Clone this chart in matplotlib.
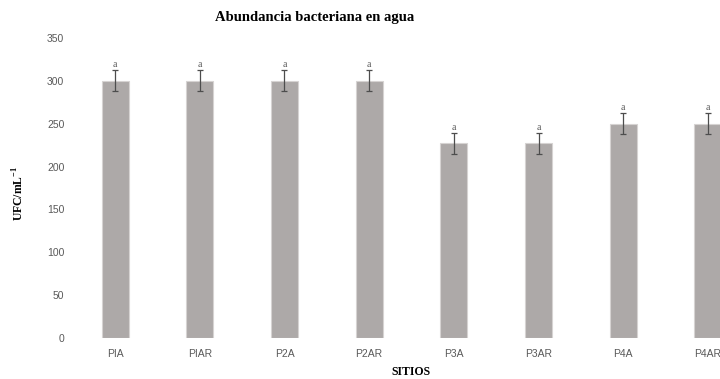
import matplotlib.pyplot as plt
import numpy as np

# Data
sitios = ['PIA', 'PIAR', 'P2A', 'P2AR', 'P3A', 'P3AR', 'P4A', 'P4AR']
ufc = [300, 300, 300, 300, 227, 227, 250, 250]
err = [12, 12, 12, 12, 12, 12, 12, 12]
letras = ['a', 'a', 'a', 'a', 'a', 'a', 'a', 'a']

fig = plt.figure(figsize=(7.2, 3.79), dpi=100)
# the original is cropped on the right, so the axes run past the figure edge
ax = fig.add_axes([0.101, 0.108, 0.941, 0.792])

x = np.arange(len(sitios))
ax.bar(x, ufc, width=0.32, color='#ada9a8', edgecolor='#d6d3d2', linewidth=0.8,
       yerr=err, capsize=2.2, error_kw=dict(ecolor='#4d4d4d', elinewidth=0.9, capthick=0.9))

for xi, v, e, t in zip(x, ufc, err, letras):
    ax.text(xi, v + e + 1.5, t, ha='center', va='bottom', fontsize=7,
            family='Liberation Serif', color='#595959')

ax.set_xlim(-0.5, len(sitios) - 0.5)
ax.set_ylim(0, 350)
ax.set_yticks(np.arange(0, 351, 50))
ax.set_xticks(x)
ax.set_xticklabels(sitios)
for lab in ax.get_xticklabels() + ax.get_yticklabels():
    lab.set_family('Liberation Sans')
    lab.set_fontsize(7.5)
    lab.set_color('#595959')
ax.tick_params(length=0)
ax.tick_params(axis='x', pad=8)
ax.tick_params(axis='y', pad=6)
for s in ax.spines.values():
    s.set_visible(False)

ax.set_xlabel('SITIOS', family='Liberation Serif', fontweight='bold', fontsize=8.5, labelpad=5)
fig.text(0.027, 0.49, 'UFC/mL$^{\\mathregular{-1}}$', rotation=90, ha='center', va='center',
         family='Liberation Serif', fontweight='bold', fontsize=8.5)
fig.text(0.437, 0.955, 'Abundancia bacteriana en agua', ha='center', va='center',
         family='Liberation Serif', fontweight='bold', fontsize=10.5)

fig.savefig('out.png', dpi=100)
